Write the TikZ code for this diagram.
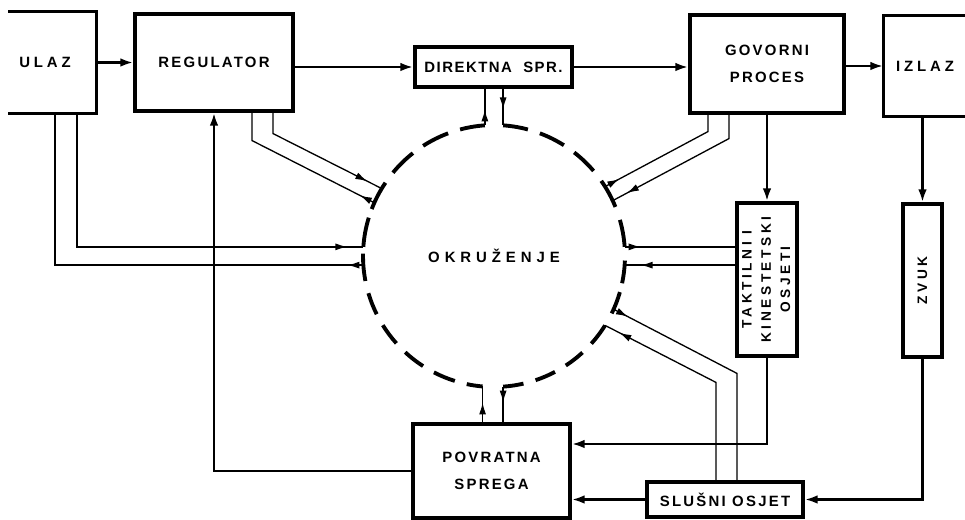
\documentclass[tikz,border=0pt]{standalone}
\usepackage{fontspec}
\newfontfamily\lblfont[LetterSpace=15]{Liberation Sans}
\newfontfamily\widefont[LetterSpace=26]{Liberation Sans}
\newfontfamily\hubfont[LetterSpace=33]{Liberation Sans}
\newfontfamily\tightfont[LetterSpace=10]{Liberation Sans}
\usetikzlibrary{arrows.meta,calc,decorations.markings}

\begin{document}
\begin{tikzpicture}[x=0.02cm, y=-0.02cm,
  box/.style={draw, line width=1.8pt, align=center, inner sep=0pt, font=\lblfont\bfseries\fontsize{8.5}{15}\selectfont},
  openbox/.style={box, draw=none},
  vbox/.style={box, font=\widefont\bfseries\fontsize{7.8}{11}\selectfont},
  arrow/.style={-{Latex[length=2.6mm,width=1.7mm]}, line width=1.6pt},
  pipe/.style={line width=0.75pt},
  tohub/.style={pipe, postaction={decorate}, decoration={markings, mark=at position -0.32cm with {\arrow{Latex[length=2.4mm,width=1.4mm]}}}},
  fromhub/.style={pipe, postaction={decorate}, decoration={markings, mark=at position -0.32cm with {\arrowreversed{Latex[length=2.4mm,width=1.4mm]}}}},
  hub/.style={line width=2.2pt},
]
\useasboundingbox (0,0) rectangle (965,520);

% blocks
\node[openbox, minimum width=2cm, minimum height=1.98cm] (ulaz) at (45,62.5) {\widefont\bfseries ULAZ};
\node[box, minimum width=3.16cm, minimum height=1.94cm] (regulator) at (214,62.5) {REGULATOR};
\node[box, minimum width=3.14cm, minimum height=0.8cm] (direktna) at (493.5,67) {\tightfont\bfseries DIREKTNA\ \ SPR.};
\node[box, minimum width=3.08cm, minimum height=1.96cm] (govorni) at (767,64) {GOVORNI\\PROCES};
\node[openbox, minimum width=1.6cm, minimum height=1.96cm] (izlaz) at (925,66) {\widefont\bfseries IZLAZ};
\node[vbox, minimum width=1.2cm, minimum height=3.06cm] (taktilni) at (767,279.5)
  {\rotatebox{90}{\begin{tabular}{@{}c@{}}TAKTILNI I\\KINESTETSKI\\OSJETI\end{tabular}}};
\node[vbox, minimum width=0.78cm, minimum height=3.06cm] (zvuk) at (922.5,280.5) {\rotatebox{90}{ZVUK}};
\node[box, minimum width=3.14cm, minimum height=1.88cm] (povratna) at (491.5,471) {POVRATNA\\SPREGA};
\node[box, minimum width=3.12cm, minimum height=0.7cm] (slusni) at (725,499.5) {SLUŠNI OSJET};
\node[circle, minimum size=5.24cm, inner sep=0pt, outer sep=0pt, font=\hubfont\bfseries\fontsize{8.5}{10}\selectfont] (env) at (494,256) {OKRUŽENJE};

% open sides
\draw[line width=1.8pt] ($(ulaz.north west)+(15,0)$) -- (ulaz.north east) -- (ulaz.south east) -- ($(ulaz.south west)+(15,0)$);
\draw[line width=1.8pt] (izlaz.north east) -- (izlaz.north west) -- (izlaz.south west) -- (izlaz.south east);

% broken ring
\foreach \s/\e in {-12/-2, 4/16, 22/35, 40.5/52.25, 57.75/69.5, 75/86, 94/105, 110.5/122.75, 128.25/140.5,
  146/159, 163/176, 179/191, 196.5/206.4, 211.9/221.8, 227.3/237.2, 242.7/252.6, 258/265,
  274/283, 288.5/297.75, 303.25/312.5, 318/328, 334/344}
  \draw[hub] ($(env.center)+(\s:2.62cm)$) arc[start angle=\s, end angle=\e, radius=2.62cm];

% main flow
\draw[arrow] (ulaz) -- (regulator);
\draw[arrow] (regulator.east |- direktna) -- (direktna.west);
\draw[arrow] (direktna.east) -- (direktna.east -| govorni.west);
\draw[arrow] (govorni.east |- izlaz) -- (izlaz.west);
\draw[arrow] (govorni) -- (taktilni);
\draw[arrow] (zvuk.north |- izlaz.south) -- (zvuk.north);
\draw[arrow] (taktilni.south) |- ($(povratna.east)+(0,-27)$);
\draw[arrow] (zvuk.south) |- (slusni.east);
\draw[arrow] (slusni.west) -- (slusni.west -| povratna.east);
\draw[arrow] (povratna.west) -| (regulator.south);

% links to the ring
\draw[tohub] ($(ulaz.south)+(32,0)$) |- (env.176);
\draw[fromhub] ($(ulaz.south)+(10,0)$) |- (env.184);
\draw[tohub] ($(regulator.south)+(59,0)$) -- ++(0,21) -- (env.149);
\draw[fromhub] ($(regulator.south)+(38,0)$) -- ++(0,28) -- (env.156);
\draw[fromhub] (direktna.south -| env.94) -- (env.94);
\draw[tohub] (direktna.south -| env.86) -- (env.86);
\draw[fromhub] ($(govorni.south)+(-59,0)$) -- ++(0,17) -- (env.32);
\draw[tohub] ($(govorni.south)+(-38,0)$) -- ++(0,24) -- (env.25);
\draw[fromhub] (env.4 -| taktilni.west) -- (env.4);
\draw[tohub] (env.356 -| taktilni.west) -- (env.356);
\draw[fromhub] ($(slusni.north)+(12,0)$) -- ++(0,-107) -- (env.336);
\draw[tohub] ($(slusni.north)+(-9,0)$) -- ++(0,-98) -- (env.328);
\draw[tohub] (povratna.north -| env.265) -- (env.265);
\draw[fromhub] (povratna.north -| env.274) -- (env.274);

\end{tikzpicture}
\end{document}
